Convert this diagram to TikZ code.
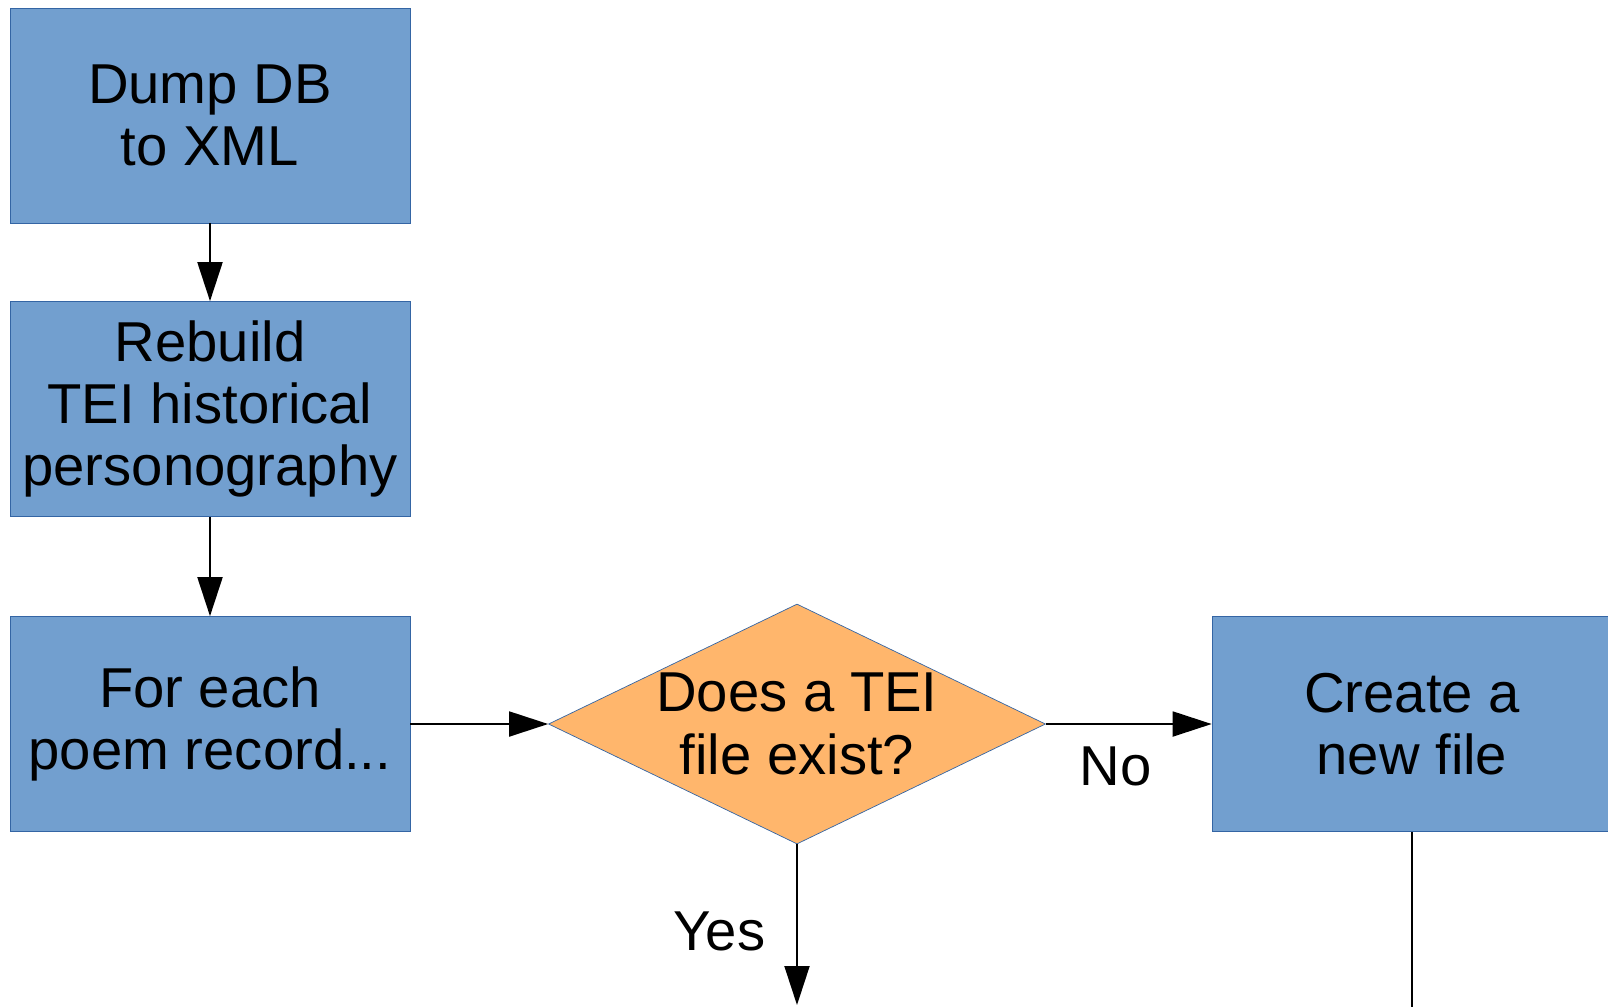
\documentclass[tikz,border=0pt]{standalone}
\usepackage{fontspec}
\setmainfont{Liberation Sans}
\usetikzlibrary{positioning, calc, shapes.geometric, arrows.meta}
\definecolor{boxblue}{HTML}{729FCF}
\definecolor{edgeblue}{HTML}{3465A4}
\definecolor{askorange}{HTML}{FFB66C}
\tikzstyle{Flow} = [
%Flow arrow with a big filled head:
line width = 1.1pt,
-{Triangle[length = 0.78cm, width = 0.5cm]}
]

\begin{document}
\begin{tikzpicture}[
			process/.style = {rectangle, draw = edgeblue, fill = boxblue, text centered, align = center, minimum width = 8cm, minimum height = 4.3cm, font = \fontsize{32}{35.5}\selectfont},
			decision/.style = {diamond, draw = edgeblue, fill = askorange, text centered, align = center, inner sep = 0pt, shape aspect = 2.07, minimum width = 9.94cm, minimum height = 4.8cm, font = \fontsize{32}{35.5}\selectfont},
			answer/.style = {font = \fontsize{32}{35.5}\selectfont},
		]
		\useasboundingbox (0,0) rectangle (32.16,-20.14);

		\node[process](DUMP) at (4.2,-2.31){Dump DB\\to XML};
		\node[process](REB) at (4.2,-8.18){Rebuild\\TEI historical\\personography};
		\node[process](EACH) at (4.2,-14.48){For each\\poem record...};
		\node[decision](TEI) at (15.94,-14.48){Does a TEI\\file exist?};
		\node[process](NEW) at (28.24,-14.48){Create a\\new file};
		\coordinate(YES) at (15.94,-20.1);
		\coordinate(DOWN) at (28.24,-20.14);

		\draw[Flow](DUMP)--(REB);
		\draw[Flow](REB)--(EACH);
		\draw[Flow](EACH)--(TEI);
		\draw[Flow](TEI)--node[answer, pos = 0.42, below = 0.32cm] {No}(NEW);
		\draw[Flow](TEI)--node[answer, pos = 0.54, left = 0.5cm] {Yes}(YES);
		\draw[line width = 1.1pt](NEW)--(DOWN);

	\end{tikzpicture}
\end{document}
